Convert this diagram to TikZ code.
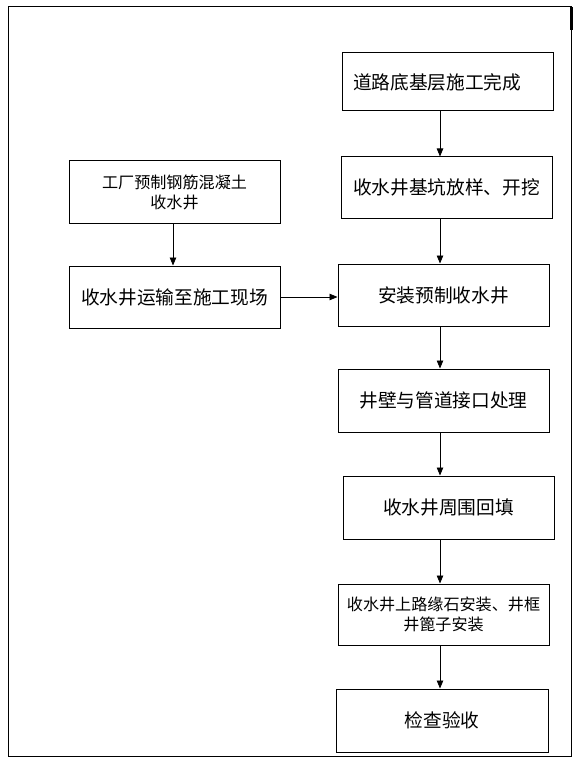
\documentclass[tikz,border=0pt]{standalone}
\usepackage{fontspec}
\setmainfont{Noto Sans CJK SC}
\usepackage{tikz}
\usetikzlibrary{arrows.meta,positioning,calc}
\tikzstyle{step box} = [draw, rectangle, line width=1pt, align=center, minimum height=62pt, minimum width=211pt, text=black, font=\fontsize{18.7}{22}\selectfont]
\tikzstyle{small box} = [step box, font=\fontsize{16.1}{20}\selectfont]
\tikzstyle{arr} = [draw, line width=0.8pt, -{Triangle[length=8pt,width=6.5pt]}]

\begin{document}
\begin{tikzpicture}[x=1pt, y=-1pt]
    \useasboundingbox (0,0) rectangle (579,762);
    % outer frame
    \draw [line width=1pt] (8,7) rectangle (571,756);
    \draw [line width=3pt] (571,7) -- (571,30);

    % right column
    \node [step box, minimum height=58pt, text width=190pt, align=left] (dl) at (448,82) {道路底基层施工完成};
    \node [step box, minimum height=61pt] (kw) at (446.5,187.5) {收水井基坑放样、开挖};
    \node [step box] (az) at (443.5,295) {安装预制收水井};
    \node [step box, minimum height=63pt] (jk) at (443.5,400.5) {井壁与管道接口处理};
    \node [step box, minimum height=63pt] (ht) at (448.5,507.5) {收水井周围回填};
    \node [small box, minimum height=61pt] (lys) at (443.5,614.5) {收水井上路缘石安装、井框\\井篦子安装};
    \node [step box, minimum height=63pt, minimum width=212pt] (ys) at (442,720.5) {检查验收};

    % left column
    \node [small box] (yz) at (174.5,192) {工厂预制钢筋混凝土\\收水井};
    \node [step box] (ys1) at (174.5,297) {收水井运输至施工现场};

    \coordinate (ra) at (440,0);
    \coordinate (la) at (173,0);

    \draw [arr] (dl.south -| ra) -- (kw.north -| ra);
    \draw [arr] (kw.south -| ra) -- (az.north -| ra);
    \draw [arr] (az.south -| ra) -- (jk.north -| ra);
    \draw [arr] (jk.south -| ra) -- (ht.north -| ra);
    \draw [arr] (ht.south -| ra) -- (lys.north -| ra);
    \draw [arr] (lys.south -| ra) -- (ys.north -| ra);

    \draw [arr] (yz.south -| la) -- (ys1.north -| la);
    \draw [arr] (ys1.east) -- (az.west |- ys1.east);
\end{tikzpicture}
\end{document}
